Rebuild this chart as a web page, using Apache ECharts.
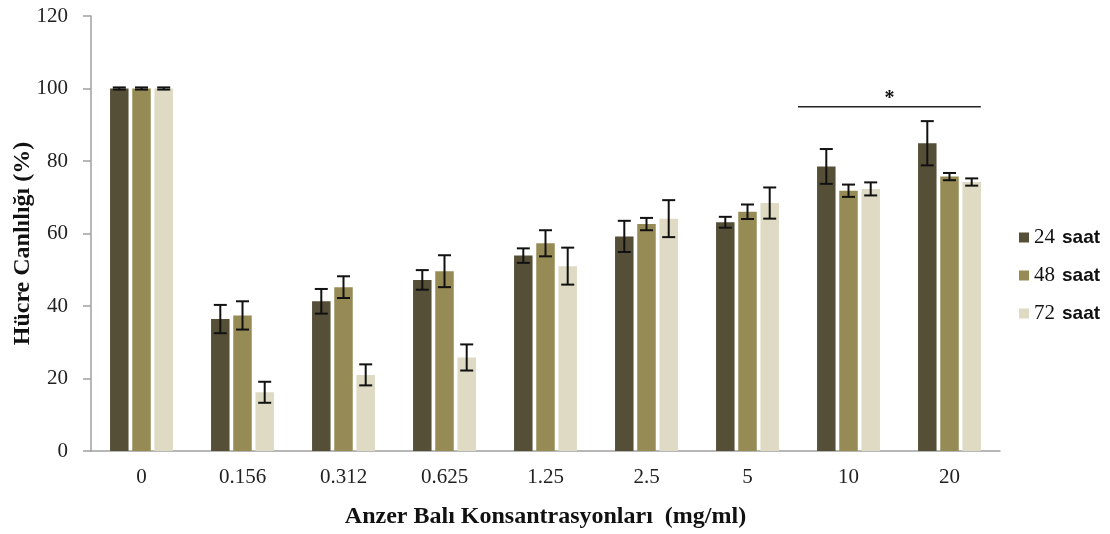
<!DOCTYPE html>
<html><head><meta charset="utf-8">
<script src="https://cdn.jsdelivr.net/npm/echarts@6/dist/echarts.min.js"></script>
<style>html,body{margin:0;padding:0;background:#fff}#c{width:1110px;height:534px}</style>
</head><body><div id="c"></div>
<script>
const categories = ['0','0.156','0.312','0.625','1.25','2.5','5','10','20'];
const seriesNames = ['24 saat','48 saat','72 saat'];
const h24 = [100,36.4,41.3,47.2,53.9,59.2,63.1,78.5,84.9];
const h48 = [100,37.4,45.2,49.6,57.3,62.6,66.0,71.8,75.7];
const h72 = [100,16.2,21.0,25.8,51.0,64.1,68.4,72.3,74.2];
const err24 = [0.3,3.9,3.4,2.7,2.0,4.3,1.5,4.8,6.1];
const err48 = [0.3,3.9,3.0,4.4,3.6,1.7,2.0,1.7,1.0];
const err72 = [0.3,2.9,2.9,3.6,5.1,5.1,4.3,1.8,1.0];
const yTickValues = [0,20,40,60,80,100,120];
const significance = {from: '10', to: '20', level: 95, label: '*'};

const colors = ['#564f37','#968b54','#dedac3'];
const BAR_W = 18.5, BAR_GAP = 3.7;
const FONT = "'Liberation Serif', 'Times New Roman', serif";
const SANS = "'Liberation Sans', Arial, sans-serif";

const values = [h24,h48,h72];
const errs = [err24,err48,err72];

const chart = echarts.init(document.getElementById('c'));

const barSeries = seriesNames.map((n,k)=>({
  name:n, type:'bar', data: values[k], barWidth: BAR_W, barGap: (BAR_GAP/BAR_W*100)+'%',
  itemStyle:{color:colors[k]}, z:2
}));

const errSeries = seriesNames.map((n,k)=>({
  type:'custom', name:n+' err', z:5, silent:true,
  data: categories.map((c,i)=>[i, values[k][i], errs[k][i]]),
  renderItem: function(params, api){
    const i = api.value(0), v = api.value(1), e = api.value(2);
    const off = (k-1)*(BAR_W+BAR_GAP);
    const top = api.coord([i, v+e]);
    const bot = api.coord([i, v-e]);
    const x = top[0]+off;
    const cap = 6.5;
    const st = {stroke:'#111', lineWidth:2};
    return {type:'group', children:[
      {type:'line', shape:{x1:x,y1:top[1],x2:x,y2:bot[1]}, style:st},
      {type:'line', shape:{x1:x-cap,y1:top[1],x2:x+cap,y2:top[1]}, style:st},
      {type:'line', shape:{x1:x-cap,y1:bot[1],x2:x+cap,y2:bot[1]}, style:st}
    ]};
  }
}));

const sigSeries = {
  type:'custom', z:6, silent:true,
  data:[[categories.indexOf(significance.from), categories.indexOf(significance.to), significance.level]],
  renderItem: function(params, api){
    const a = api.value(0), b = api.value(1), y = api.value(2);
    const band = api.size([1,0])[0];
    const p1 = api.coord([a, y]), p2 = api.coord([b, y]);
    const x1 = p1[0]-band/2, x2 = p2[0]+band*0.31;
    return {type:'group', children:[
      {type:'line', shape:{x1:x1,y1:p1[1],x2:x2,y2:p1[1]}, style:{stroke:'#222', lineWidth:1.5}},
      {type:'text', x:(x1+x2)/2, y:p1[1]+2, style:{text:significance.label, fill:'#111', font:'bold 20px '+FONT, align:'center', verticalAlign:'bottom'}}
    ]};
  }
};

chart.setOption({
  animation:false,
  grid:{left:91, right:110, top:16, bottom:83, containLabel:false, outerBoundsMode:'none'},
  legend:{
    data: seriesNames, orient:'vertical', left:1014, top:222,
    itemWidth:10, itemHeight:10, itemGap:17, icon:'rect',
    formatter: function(n){ const p = n.split(' '); return '{n|'+p[0]+'}{s|'+p[1]+'}'; },
    textStyle:{fontFamily:FONT, fontSize:21, color:'#111',
      rich:{n:{fontFamily:FONT, fontSize:21, color:'#111'}, s:{fontFamily:SANS, fontSize:19, fontWeight:'bold', color:'#111', padding:[0,0,0,7]}}}
  },
  xAxis:{
    type:'category', data:categories,
    name:'Anzer Balı Konsantrasyonları  (mg/ml)', nameLocation:'middle', nameGap:54, nameMoveOverlap:false,
    nameTextStyle:{fontFamily:FONT, fontSize:24, fontWeight:'bold', color:'#111'},
    axisLine:{lineStyle:{color:'#a0a0a0', width:1.5}},
    axisTick:{length:8, lineStyle:{color:'#a0a0a0', width:1.5}},
    axisLabel:{fontFamily:FONT, fontSize:21, color:'#222', margin:16}
  },
  yAxis:{
    type:'value', min:yTickValues[0], max:yTickValues[yTickValues.length-1], interval:yTickValues[1]-yTickValues[0],
    name:'Hücre Canlılığı (%)', nameLocation:'middle', nameGap:56, nameMoveOverlap:false,
    nameTextStyle:{fontFamily:FONT, fontSize:24, fontWeight:'bold', color:'#111', padding:[0,20,0,0]},
    axisLine:{show:true, lineStyle:{color:'#a0a0a0', width:1.5}},
    axisTick:{show:true, length:8, lineStyle:{color:'#a0a0a0', width:1.5}},
    splitLine:{show:false},
    axisLabel:{fontFamily:FONT, fontSize:21, color:'#222', margin:23}
  },
  series:[...barSeries, ...errSeries, sigSeries]
});
</script></body></html>
